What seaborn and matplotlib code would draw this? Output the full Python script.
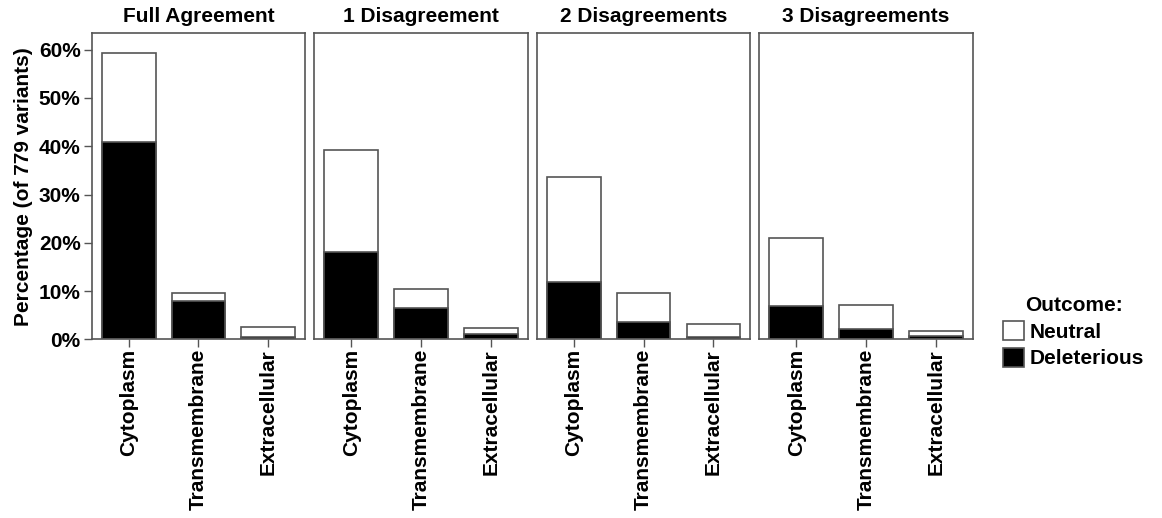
import pandas as pd
import matplotlib.pyplot as plt
import seaborn as sns
from matplotlib.patches import Patch

# values (percent of 779 variants)
panels = ['Full Agreement', '1 Disagreement', '2 Disagreements', '3 Disagreements']
locations = ['Cytoplasm', 'Transmembrane', 'Extracellular']
total_pct = [
    [59.3, 9.5, 2.6],
    [39.2, 10.35, 2.4],
    [33.7, 9.65, 3.2],
    [21.0, 7.2, 1.7],
]
deleterious_pct = [
    [40.9, 7.9, 0.4],
    [18.0, 6.4, 1.0],
    [11.9, 3.6, 0.55],
    [7.0, 2.1, 0.6],
]

rows = []
for p, tot, dele in zip(panels, total_pct, deleterious_pct):
    for loc, t, d in zip(locations, tot, dele):
        rows.append({'panel': p, 'location': loc, 'total': t, 'deleterious': d})
df = pd.DataFrame(rows)

sns.set_style('white')
plt.rcParams['font.family'] = ['Liberation Sans', 'DejaVu Sans']
plt.rcParams['font.weight'] = 'bold'
plt.rcParams['text.color'] = 'black'
plt.rcParams['axes.labelcolor'] = 'black'
plt.rcParams['xtick.labelcolor'] = 'black'
plt.rcParams['ytick.labelcolor'] = 'black'

edge = '#555555'
fig, axes = plt.subplots(1, 4, figsize=(11.62, 5.18), dpi=100, sharey=True)
fig.subplots_adjust(left=0.0789, right=0.8373, top=0.9357, bottom=0.345, wspace=0.042)

for ax, p in zip(axes, panels):
    sub = df[df['panel'] == p]
    sns.barplot(data=sub, x='location', y='total', order=locations, color='white',
                edgecolor=edge, linewidth=1.2, width=0.77, ax=ax, saturation=1)
    sns.barplot(data=sub, x='location', y='deleterious', order=locations, color='black',
                edgecolor=edge, linewidth=1.2, width=0.77, ax=ax, saturation=1)
    ax.set_xlim(-0.53, 2.53)
    ax.set_ylim(0, 63.4)
    ax.set_title(p, fontsize=15, fontweight='bold', pad=8, color='black')
    ax.set_xlabel('')
    ax.set_ylabel('')
    for s in ax.spines.values():
        s.set_color(edge)
        s.set_linewidth(1.2)
    ax.tick_params(axis='x', bottom=True, length=6, width=1, color=edge, rotation=90,
                   labelsize=15, pad=1, labelcolor='black')
    for lab in ax.get_xticklabels():
        lab.set_fontweight('bold')
    ax.tick_params(axis='y', left=False)

axes[0].set_yticks([0, 10, 20, 30, 40, 50, 60])
axes[0].set_yticklabels(['0%', '10%', '20%', '30%', '40%', '50%', '60%'])
axes[0].tick_params(axis='y', left=True, length=6, width=1, color=edge, labelsize=15, pad=2,
                    labelcolor='black')
for lab in axes[0].get_yticklabels():
    lab.set_fontweight('bold')
axes[0].set_ylabel('Percentage (of 779 variants)', fontsize=15, fontweight='bold',
                   labelpad=4, color='black')

handles = [Patch(facecolor='white', edgecolor=edge, linewidth=1.2, label='Neutral'),
           Patch(facecolor='black', edgecolor=edge, linewidth=1.2, label='Deleterious')]
leg = fig.legend(handles=handles, title='Outcome:', loc='upper left',
                 bbox_to_anchor=(1003 / 1162, 1 - 296 / 518), frameon=False,
                 prop={'size': 15, 'weight': 'bold'},
                 title_fontproperties={'size': 15, 'weight': 'bold'},
                 handlelength=1.0, handleheight=1.0, handletextpad=0.3, labelspacing=0.3,
                 borderpad=0, borderaxespad=0)
for t in leg.get_texts():
    t.set_color('black')
leg.get_title().set_color('black')

plt.savefig('out.png', dpi=100)
